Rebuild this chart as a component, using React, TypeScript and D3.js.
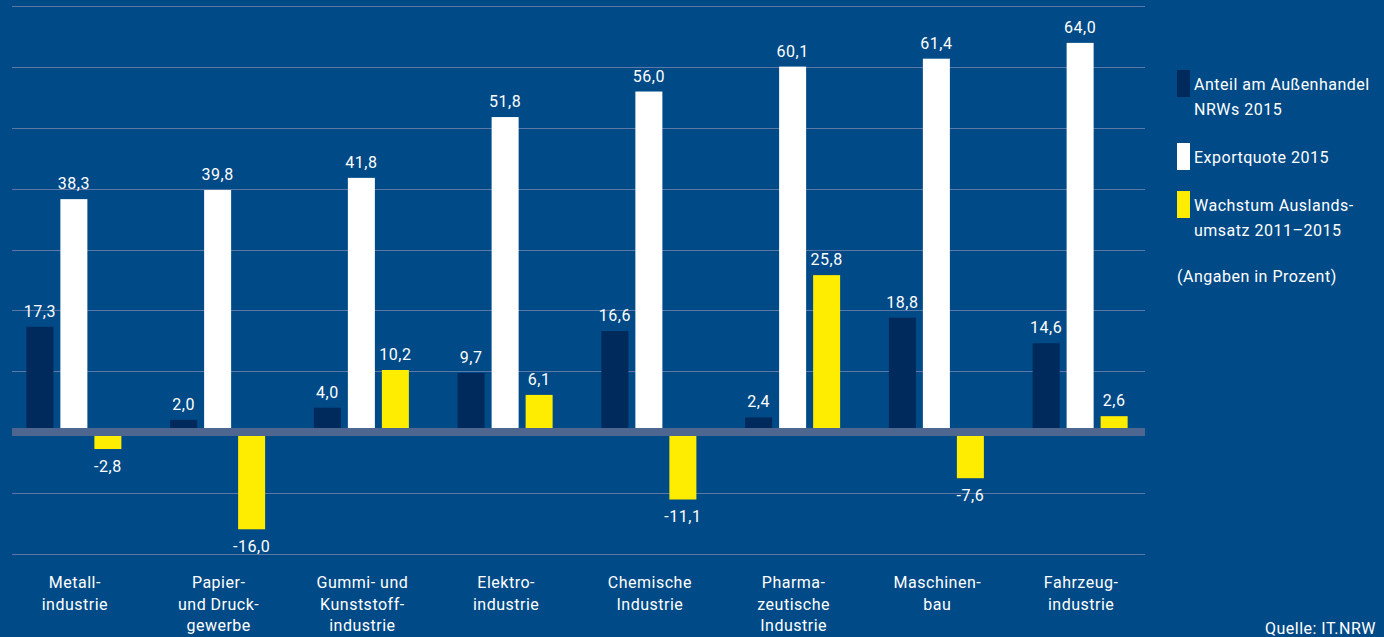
import React from "react";
import * as d3 from "d3";

const categories = [
  "Metall-\nindustrie",
  "Papier-\nund Druck-\ngewerbe",
  "Gummi- und\nKunststoff-\nindustrie",
  "Elektro-\nindustrie",
  "Chemische\nIndustrie",
  "Pharma-\nzeutische\nIndustrie",
  "Maschinen-\nbau",
  "Fahrzeug-\nindustrie",
];
const anteil = [17.3, 2.0, 4.0, 9.7, 16.6, 2.4, 18.8, 14.6];
const exportquote = [38.3, 39.8, 41.8, 51.8, 56.0, 60.1, 61.4, 64.0];
const wachstum = [-2.8, -16.0, 10.2, 6.1, -11.1, 25.8, -7.6, 2.6];
const seriesNames = ["Anteil am Außenhandel\nNRWs 2015", "Exportquote 2015", "Wachstum Auslands-\numsatz 2011–2015"];
const gridTicks = [-20, -10, 10, 20, 30, 40, 50, 60, 70];
const note = "(Angaben in Prozent)";
const source = "Quelle: IT.NRW";

const W = 1384;
const H = 637;
const BG = "#004a87";
const COLORS = ["#002a5c", "#ffffff", "#ffed00"];
const FONT = "Roboto, 'Open Sans', sans-serif";

export default function App() {
  const y = d3.scaleLinear().domain([0, 70]).range([432, 6.4]);
  const x0 = d3.scaleBand<number>().domain(d3.range(categories.length)).range([2, 1152]);
  const x1 = d3
    .scaleBand<number>()
    .domain([0, 1, 2])
    .range([-51, 51])
    .paddingInner(7 / 34)
    .paddingOuter(3.5 / 34);
  const series = [anteil, exportquote, wachstum];
  const fmt = (v: number) => (v < 0 ? "-" : "") + d3.format(".1f")(Math.abs(v)).replace(".", ",");

  return (
    <svg width={W} height={H} style={{ position: "absolute", left: 0, top: 0 }} fontFamily={FONT} letterSpacing={0.5}>
      <rect x={0} y={0} width={W} height={H} fill={BG} />
      {gridTicks.map((t) => (
        <line key={t} x1={12} x2={1145} y1={Math.round(y(t)) + 0.5} y2={Math.round(y(t)) + 0.5} stroke="#5b79a6" strokeWidth={1} />
      ))}
      {categories.map((c, i) => {
        const cx = x0(i)! + x0.bandwidth() / 2;
        return (
          <g key={i}>
            {series.map((s, k) => {
              const v = s[i];
              const bx = cx + x1(k)!;
              const top = Math.min(y(v), y(0));
              const h = Math.abs(y(v) - y(0));
              const labelY = v >= 0 ? y(v) - 10 : y(v) + 23;
              return (
                <g key={k}>
                  <rect x={bx} y={top} width={x1.bandwidth()} height={h} fill={COLORS[k]} />
                  <text x={bx + x1.bandwidth() / 2} y={labelY} textAnchor="middle" fill="#ffffff" fontSize={16}>
                    {fmt(v)}
                  </text>
                </g>
              );
            })}
            <text x={cx + 1} y={588} textAnchor="middle" fill="#ffffff" fontSize={16}>
              {c.split("\n").map((line, j) => (
                <tspan key={j} x={cx + 1} dy={j === 0 ? 0 : 21.5}>
                  {line}
                </tspan>
              ))}
            </text>
          </g>
        );
      })}
      <rect x={12} y={428} width={1133} height={8} fill="#4d6791" />
      {seriesNames.map((name, k) => {
        const yy = [70, 143, 191][k];
        return (
          <g key={k}>
            <rect x={1177} y={yy} width={13} height={27} fill={COLORS[k]} />
            <text x={1194} y={yy + 20} fill="#ffffff" fontSize={16}>
              {name.split("\n").map((line, j) => (
                <tspan key={j} x={1194} dy={j === 0 ? 0 : 24.5}>
                  {line}
                </tspan>
              ))}
            </text>
          </g>
        );
      })}
      <text x={1177} y={282} fill="#ffffff" fontSize={16}>
        {note}
      </text>
      <text x={1376} y={634} textAnchor="end" fill="#ffffff" fontSize={16}>
        {source}
      </text>
    </svg>
  );
}
